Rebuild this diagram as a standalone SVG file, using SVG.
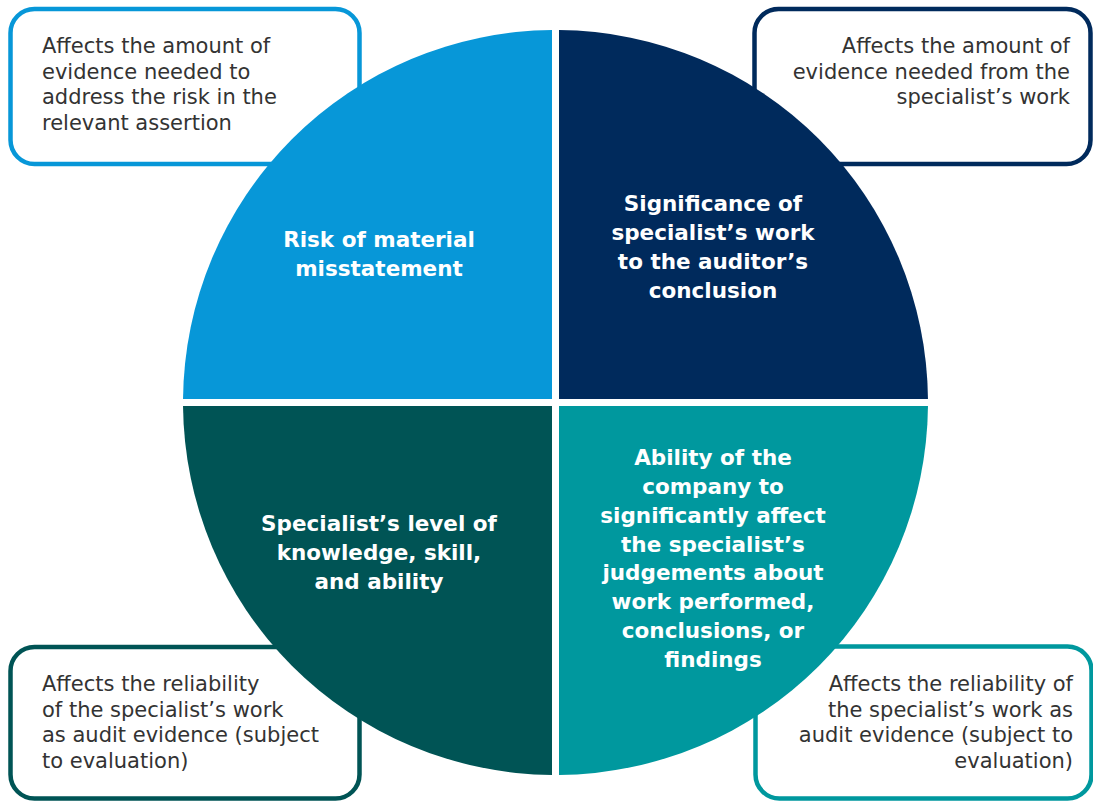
<svg xmlns="http://www.w3.org/2000/svg" width="1093" height="801" viewBox="0 0 1093 801">
<style>
.box{fill:#fff;stroke-width:4.5}
.note{font-family:"DejaVu Sans",sans-serif;font-size:21px;fill:#333}
.title{font-family:"DejaVu Sans",sans-serif;font-weight:bold;font-size:21.5px;fill:#fff;text-anchor:middle}
.r{text-anchor:end}
</style>
<rect width="1093" height="801" fill="#fff"/>
<g id="note-tl">
<rect class="box" x="10.5" y="9" width="349" height="155" rx="24" stroke="#0797d8"/>
<text class="note" x="42"><tspan x="42" y="53">Affects the amount of</tspan><tspan x="42" y="78.5">evidence needed to</tspan><tspan x="42" y="104">address the risk in the</tspan><tspan x="42" y="129.5">relevant assertion</tspan></text>
</g>
<g id="note-tr">
<rect class="box" x="754.5" y="9" width="336" height="155" rx="24" stroke="#002a5c"/>
<text class="note r" x="1070"><tspan x="1070" y="53">Affects the amount of</tspan><tspan x="1070" y="78.5">evidence needed from the</tspan><tspan x="1070" y="104">specialist’s work</tspan></text>
</g>
<g id="note-bl">
<rect class="box" x="10.5" y="647" width="349" height="151.5" rx="24" stroke="#005455"/>
<text class="note" x="42"><tspan x="42" y="691">Affects the reliability</tspan><tspan x="42" y="716.5">of the specialist’s work</tspan><tspan x="42" y="742">as audit evidence (subject</tspan><tspan x="42" y="767.5">to evaluation)</tspan></text>
</g>
<g id="note-br">
<rect class="box" x="755.5" y="646.5" width="336" height="152" rx="24" stroke="#00989e"/>
<text class="note r" x="1073"><tspan x="1073" y="691">Affects the reliability of</tspan><tspan x="1073" y="716.5">the specialist’s work as</tspan><tspan x="1073" y="742">audit evidence (subject to</tspan><tspan x="1073" y="767.5">evaluation)</tspan></text>
</g>
<g id="q-risk">
<path d="M552,399 L552,30.02 A372.5,372.5 0 0 0 183.02,399 Z" fill="#0797d8"/>
<text class="title"><tspan x="379" y="247">Risk of material</tspan><tspan x="379" y="276">misstatement</tspan></text>
</g>
<g id="q-significance">
<path d="M559,399 L559,30.02 A372.5,372.5 0 0 1 927.98,399 Z" fill="#002a5c"/>
<text class="title"><tspan x="713" y="211">Significance of</tspan><tspan x="713" y="240">specialist’s work</tspan><tspan x="713" y="269">to the auditor’s</tspan><tspan x="713" y="298">conclusion</tspan></text>
</g>
<g id="q-knowledge">
<path d="M552,406 L183.02,406 A372.5,372.5 0 0 0 552,774.98 Z" fill="#005455"/>
<text class="title"><tspan x="379" y="531">Specialist’s level of</tspan><tspan x="379" y="560">knowledge, skill,</tspan><tspan x="379" y="589">and ability</tspan></text>
</g>
<g id="q-ability">
<path d="M559,406 L559,774.98 A372.5,372.5 0 0 0 927.98,406 Z" fill="#00989e"/>
<text class="title"><tspan x="713" y="465">Ability of the</tspan><tspan x="713" y="494">company to</tspan><tspan x="713" y="523">significantly affect</tspan><tspan x="713" y="551.5">the specialist’s</tspan><tspan x="713" y="580">judgements about</tspan><tspan x="713" y="609">work performed,</tspan><tspan x="713" y="638">conclusions, or</tspan><tspan x="713" y="666.5">findings</tspan></text>
</g>
<g id="connectors"/>
</svg>
